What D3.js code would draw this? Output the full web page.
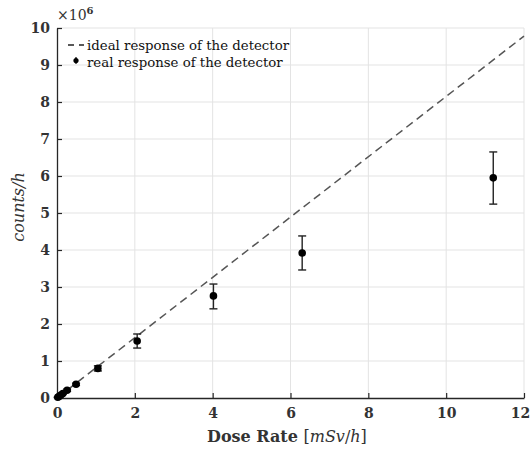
<!DOCTYPE html>
<html><head><meta charset="utf-8">
<script src="https://cdn.jsdelivr.net/npm/d3@7"></script>
<style>body{margin:0;background:#fff}svg{display:block}</style>
</head><body>
<script>
const doseRate = [0.02, 0.05, 0.10, 0.15, 0.26, 0.49, 1.05, 2.06, 4.02, 6.30, 11.21];
const counts   = [0.02, 0.04, 0.08, 0.12, 0.21, 0.37, 0.80, 1.54, 2.76, 3.92, 5.95];
const errLow   = [0.01, 0.01, 0.02, 0.02, 0.03, 0.03, 0.07, 0.19, 0.35, 0.46, 0.71];
const errHigh  = [0.01, 0.01, 0.02, 0.02, 0.03, 0.03, 0.07, 0.19, 0.32, 0.46, 0.70];
const idealSlope = 0.815;
const xTicks = [0, 2, 4, 6, 8, 10, 12];
const yTicks = [0, 1, 2, 3, 4, 5, 6, 7, 8, 9, 10];
const legendLabels = ["ideal response of the detector", "real response of the detector"];

const W = 532, H = 450;
const m = {left: 57, right: 8, top: 28, bottom: 52};
const svg = d3.select("body").append("svg").attr("width", W).attr("height", H);
const x = d3.scaleLinear().domain([0, 12]).range([m.left, 524]);
const y = d3.scaleLinear().domain([0, 10]).range([398, 28]);
const font = "'DejaVu Serif', serif";
const axisCol = "#262626";

// grid
svg.append("g").selectAll("line").data(xTicks.slice(1)).join("line")
  .attr("x1", d => x(d)).attr("x2", d => x(d)).attr("y1", y(0)).attr("y2", y(10))
  .attr("stroke", "#e3e3e3").attr("stroke-width", 1);
svg.append("g").selectAll("line").data(yTicks.slice(1)).join("line")
  .attr("x1", x(0)).attr("x2", x(12)).attr("y1", d => y(d)).attr("y2", d => y(d))
  .attr("stroke", "#e3e3e3").attr("stroke-width", 1);

// axes
const xAxis = svg.append("g").attr("transform", `translate(0,${y(0)})`)
  .call(d3.axisBottom(x).tickValues(xTicks).tickSizeInner(-5).tickSizeOuter(0).tickPadding(10));
const yAxis = svg.append("g").attr("transform", `translate(${x(0)},0)`)
  .call(d3.axisLeft(y).tickValues(yTicks).tickSizeInner(-5).tickSizeOuter(0).tickPadding(10));
[xAxis, yAxis].forEach(g => {
  g.select(".domain").attr("stroke", axisCol).attr("stroke-width", 1.3);
  g.selectAll(".tick line").attr("stroke", axisCol).attr("stroke-width", 1.2);
  g.selectAll(".tick text").attr("fill", "#333").attr("font-family", font)
    .attr("font-size", 14).attr("font-weight", "bold");
});
yAxis.selectAll(".tick text").attr("dx", 3);
xAxis.selectAll(".tick text").filter(d => d === 12).attr("dx", -4);

// ideal line
svg.append("line")
  .attr("x1", x(0)).attr("y1", y(0)).attr("x2", x(12)).attr("y2", y(12 * idealSlope))
  .attr("stroke", "#555").attr("stroke-width", 1.5).attr("stroke-dasharray", "8,5");

// error bars
const pts = doseRate.map((d, i) => ({x: d, y: counts[i], lo: counts[i] - errLow[i], hi: counts[i] + errHigh[i]}));
const eb = svg.append("g").attr("stroke", "#222").attr("stroke-width", 1.4);
eb.selectAll("line.v").data(pts).join("line").attr("class", "v")
  .attr("x1", d => x(d.x)).attr("x2", d => x(d.x)).attr("y1", d => y(d.lo)).attr("y2", d => y(d.hi));
eb.selectAll("line.t").data(pts).join("line").attr("class", "t")
  .attr("x1", d => x(d.x) - 4).attr("x2", d => x(d.x) + 4).attr("y1", d => y(d.hi)).attr("y2", d => y(d.hi));
eb.selectAll("line.b").data(pts).join("line").attr("class", "b")
  .attr("x1", d => x(d.x) - 4).attr("x2", d => x(d.x) + 4).attr("y1", d => y(d.lo)).attr("y2", d => y(d.lo));
svg.append("g").selectAll("circle").data(pts).join("circle")
  .attr("cx", d => x(d.x)).attr("cy", d => y(d.y)).attr("r", 3.8).attr("fill", "#000");

// exponent
const ex = svg.append("text").attr("x", 57).attr("y", 20).attr("font-family", font)
  .attr("font-size", 14).attr("fill", "#333");
ex.append("tspan").text("×10");
ex.append("tspan").attr("dy", -6).attr("font-size", 10).attr("font-weight", "bold").text("6");

// legend
svg.append("line").attr("x1", 68).attr("x2", 84).attr("y1", 45).attr("y2", 45)
  .attr("stroke", "#222").attr("stroke-width", 1.3).attr("stroke-dasharray", "6,5");
svg.append("line").attr("x1", 76).attr("x2", 76).attr("y1", 57).attr("y2", 64)
  .attr("stroke", "#000").attr("stroke-width", 1.2);
svg.append("circle").attr("cx", 76).attr("cy", 60.5).attr("r", 2.6).attr("fill", "#000");
svg.append("g").selectAll("text").data(legendLabels).join("text")
  .attr("x", 87).attr("y", (d, i) => 50 + i * 17).attr("font-family", font)
  .attr("font-size", 13.3).attr("fill", "#111").text(d => d);

// axis labels
const xl = svg.append("text").attr("x", 207).attr("y", 442).attr("font-family", font)
  .attr("font-size", 16).attr("fill", "#333");
xl.append("tspan").attr("font-weight", "bold").text("Dose Rate ");
xl.append("tspan").text("[");
xl.append("tspan").attr("font-style", "italic").text("mSv");
xl.append("tspan").text("/");
xl.append("tspan").attr("font-style", "italic").text("h");
xl.append("tspan").text("]");

svg.append("text").attr("transform", `translate(24,207) rotate(-90)`)
  .attr("text-anchor", "middle").attr("font-family", font).attr("font-size", 16)
  .attr("font-style", "italic").attr("fill", "#333").text("counts/h");
</script>
</body></html>
